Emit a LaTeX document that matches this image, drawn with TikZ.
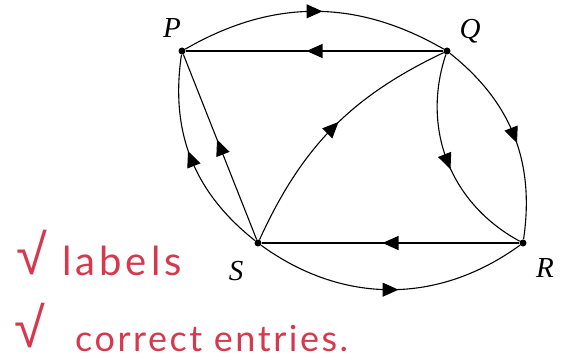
\documentclass[tikz,border=0pt]{standalone}
\usepackage{fontspec}
\setmainfont{Liberation Serif}
\newfontfamily\handfontA[LetterSpace=10]{Lato}
\newfontfamily\handfontB[LetterSpace=7]{Lato}
\newfontfamily\symfont{Liberation Sans}
\usetikzlibrary{arrows.meta,decorations.markings}
\definecolor{handred}{RGB}{214,56,78}
\begin{document}
\begin{tikzpicture}[x=1pt,y=1pt,
  dot/.style={circle,fill=black,inner sep=0pt,minimum size=7pt},
  edge/.style={line width=1.1pt,black},
  midarrow/.style={postaction={decorate},decoration={markings,
     mark=at position 0.5 with {\arrow[xshift=8pt]{Triangle[length=16pt,width=14pt]}}}},
  lab/.style={font=\fontsize{29}{29}\selectfont\itshape},
  hand/.style={text=handred,anchor=base west,inner sep=0pt},
  tick/.style={font=\fontsize{56}{56}\selectfont\symfont,text=handred,inner sep=0pt}]
\useasboundingbox (0,0) rectangle (562,-361);
\node[dot] (P) at (182,-51) {};
\node[dot] (Q) at (447,-51) {};
\node[dot] (S) at (258,-243) {};
\node[dot] (R) at (523,-243) {};
\node[lab] (lP) at (172,-28) {P};
\node[lab] (lQ) at (470,-31) {Q};
\node[lab] (lS) at (236,-271) {S};
\node[lab] (lR) at (545,-268) {R};
% edges
\draw[edge,midarrow] (P) to[bend left=30] (Q);
\draw[edge,midarrow] (Q) -- (P);
\draw[edge,midarrow] (Q) to[bend left=30] (R);
\draw[edge,midarrow] (Q) to[bend right=40] (R);
\draw[edge,midarrow] (R) -- (S);
\draw[edge,midarrow] (S) to[bend right=36] (R);
\draw[edge,midarrow] (S) to[bend left=30] (P);
\draw[edge,midarrow] (S) -- (P);
\draw[edge,midarrow] (S) to[bend left=20] (Q);
% handwritten notes
\node[tick] (t1) at (32,-253) {√};
\node[hand,font=\fontsize{40}{40}\selectfont\handfontA] (h1) at (62,-275) {labels};
\node[tick] (t2) at (30,-326) {√};
\node[hand,font=\fontsize{36}{36}\selectfont\handfontB] (h2) at (75,-351) {correct entries.};
\end{tikzpicture}
\end{document}
